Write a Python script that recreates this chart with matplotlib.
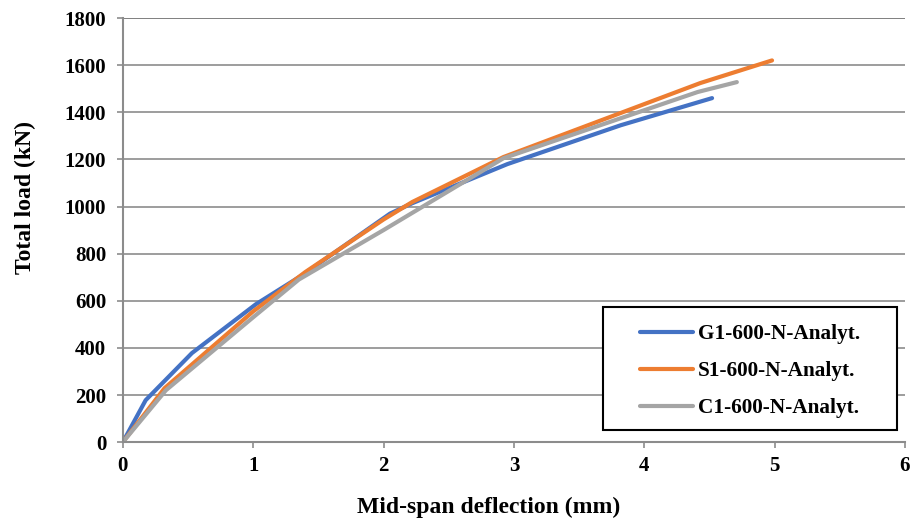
import matplotlib.pyplot as plt
from matplotlib.patches import Rectangle

# deflection (mm) / load (kN)
g1_x = [0, 0.175, 0.53, 1.02, 1.38, 2.05, 2.22, 2.95, 3.82, 4.52]
g1_y = [0, 178, 378, 585, 710, 970, 1014, 1180, 1345, 1460]

s1_x = [0, 0.32, 1.0, 1.4, 2.0, 2.22, 2.92, 4.43, 4.98]
s1_y = [0, 229, 555, 722, 945, 1019, 1210, 1524, 1620]

c1_x = [0, 0.33, 1.0, 1.35, 2.0, 2.92, 4.41, 4.71]
c1_y = [0, 220, 530, 690, 900, 1205, 1486, 1528]

series = [
    ('G1-600-N-Analyt.', g1_x, g1_y, '#4472C4'),
    ('S1-600-N-Analyt.', s1_x, s1_y, '#ED7D31'),
    ('C1-600-N-Analyt.', c1_x, c1_y, '#A5A5A5'),
]

plt.rcParams['font.family'] = ['Liberation Serif', 'DejaVu Serif']
plt.rcParams['font.weight'] = 'bold'

fig = plt.figure(figsize=(9.10, 5.22), dpi=100)
ax = fig.add_axes([0.135, 0.153, 0.8595, 0.8125])

for label, xs, ys, color in series:
    ax.plot(xs, ys, color=color, lw=3, label=label, solid_capstyle='round')

ax.set_xlim(0, 6)
ax.set_ylim(0, 1800)
ax.set_xticks(range(0, 7))
ax.set_yticks(range(0, 1801, 200))
ax.grid(axis='y', color='#8c8c8c', lw=1.2)
ax.set_axisbelow(True)

for side in ['top', 'right']:
    ax.spines[side].set_visible(False)
for side in ['left', 'bottom']:
    ax.spines[side].set_color('#8c8c8c')
    ax.spines[side].set_linewidth(1.5)
ax.axhline(1800, color='#333333', lw=1.2, zorder=0)

ax.tick_params(axis='both', colors='#8c8c8c', length=4, width=1.2, labelsize=15,
               labelcolor='black')
ax.tick_params(axis='y', pad=8)
ax.tick_params(axis='x', pad=6)
for lbl in ax.get_xticklabels() + ax.get_yticklabels():
    lbl.set_fontweight('bold')

ax.set_xlabel('Mid-span deflection (mm)', fontsize=17, fontweight='bold')
ax.set_ylabel('Total load (kN)', fontsize=17, fontweight='bold')
ax.xaxis.set_label_coords(0.468, -0.13)
ax.yaxis.set_label_coords(-0.111, 0.577)

# legend box (Excel style, wide side padding)
box = Rectangle((603 / 910, 1 - 430 / 522), 294 / 910, 123 / 522,
                transform=fig.transFigure, facecolor='white',
                edgecolor='black', lw=1.5, zorder=4, clip_on=False)
ax.add_patch(box)
leg = ax.legend(loc='center', bbox_to_anchor=(750 / 910, 1 - 371 / 522),
                bbox_transform=fig.transFigure, fontsize=15.3, frameon=False,
                handlelength=2.5, borderpad=0.0, labelspacing=0.8,
                handletextpad=0.25)
leg.set_zorder(5)
for t in leg.get_texts():
    t.set_fontweight('bold')

fig.savefig('out.png', dpi=100)
